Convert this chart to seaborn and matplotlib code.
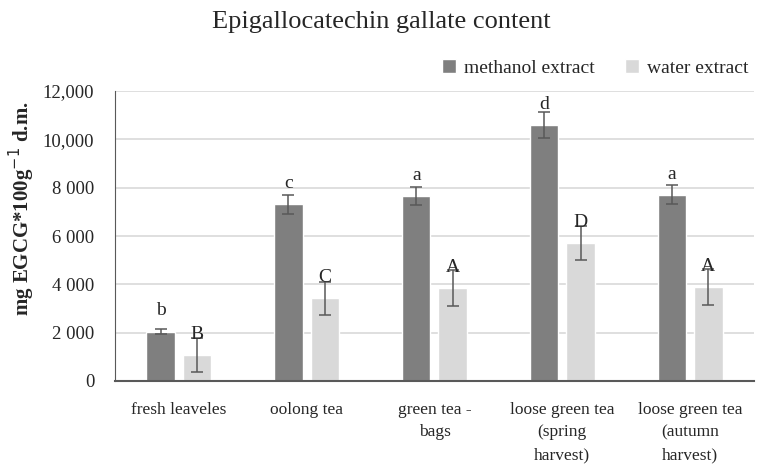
import matplotlib
matplotlib.use("Agg")
import matplotlib.pyplot as plt
import seaborn as sns
import pandas as pd

# data
categories = ["fresh leaveles", "oolong tea", "green tea -\nbags",
              "loose green tea\n(spring\nharvest)", "loose green tea\n(autumn\nharvest)"]
methanol = [2040, 7310, 7650, 10600, 7700]
methanol_err = [100, 380, 370, 540, 390]
water = [1080, 3420, 3840, 5700, 3890]
water_err = [700, 680, 740, 710, 740]
methanol_letters = ["b", "c", "a", "d", "a"]
water_letters = ["B", "C", "A", "D", "A"]
series = ["methanol extract", "water extract"]
yticks = [0, 2000, 4000, 6000, 8000, 10000, 12000]
ytick_labels = ["0", "2 000", "4 000", "6 000", "8 000", "10,000", "12,000"]

df = pd.DataFrame({
    "category": categories * 2,
    "value": methanol + water,
    "err": methanol_err + water_err,
    "letter": methanol_letters + water_letters,
    "extract": [series[0]] * 5 + [series[1]] * 5,
})

sns.set_style("white")
plt.rcParams["font.family"] = ["Liberation Serif", "DejaVu Serif"]

fig = plt.figure(figsize=(7.69, 4.76), dpi=100)
ax = fig.add_axes([0.1495, 0.1996, 0.8310, 0.6092])

sns.barplot(data=df, x="category", y="value", hue="extract",
            palette=["#7f7f7f", "#d9d9d9"], width=0.57, gap=0.22,
            errorbar=None, ax=ax, zorder=2)

# error bars and significance letters, one per patch
bars = [p for p in ax.patches if p.get_height() > 0]
bars = sorted(bars, key=lambda p: (p.get_facecolor()[0] > 0.7, p.get_x()))
for p, (_, row) in zip(bars, df.iterrows()):
    cx = p.get_x() + p.get_width() / 2
    ax.errorbar(cx, row["value"], yerr=row["err"], fmt="none",
                ecolor="#595959", elinewidth=1.1, capsize=4, capthick=1.1, zorder=3)
    ax.annotate(row["letter"], (cx, row["value"]), xytext=(0, 15),
                textcoords="offset points", ha="center", va="center",
                fontsize=14, zorder=4)

ax.set_ylim(0, 12000)
ax.set_xlim(-0.5, 4.5)
ax.set_yticks(yticks)
ax.set_yticklabels(ytick_labels)
ax.yaxis.grid(True, color="#d9d9d9", linewidth=1.2, zorder=0)
ax.set_axisbelow(True)
ax.tick_params(axis="y", length=0, pad=15, labelsize=13.5)
ax.tick_params(axis="x", length=0, pad=15, labelsize=12.5)
for lbl in ax.get_xticklabels():
    lbl.set_linespacing(1.55)
for s in ["top", "right"]:
    ax.spines[s].set_visible(False)
ax.spines["left"].set_color("#595959")
ax.spines["bottom"].set_color("#595959")
ax.spines["bottom"].set_linewidth(1.5)

ax.set_xlabel("")
ax.set_ylabel("mg EGCG*100g$^{-1}$ d.m.", fontsize=15, fontweight="bold", labelpad=10)
ax.yaxis.set_label_coords(-0.122, 0.595)

fig.text(0.496, 0.954, "Epigallocatechin gallate content", ha="center", va="center", fontsize=19)

handles, labels = ax.get_legend_handles_labels()
ax.legend(handles, labels, loc="center", bbox_to_anchor=(0.774, 0.857),
          bbox_transform=fig.transFigure, ncol=2, frameon=False, fontsize=14,
          handlelength=0.7, handleheight=0.7, handletextpad=0.4, columnspacing=1.6)

fig.savefig("out.png", dpi=100)
